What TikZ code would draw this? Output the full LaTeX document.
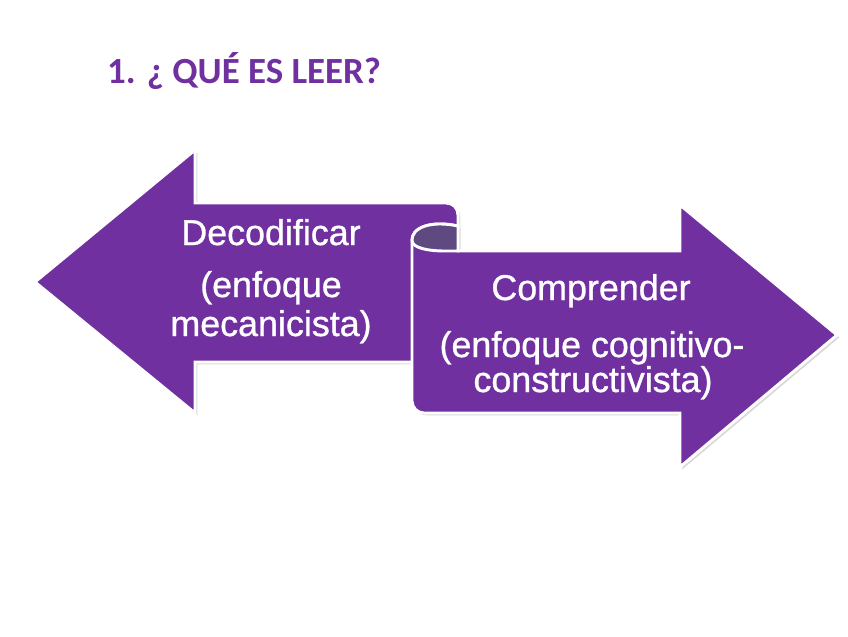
\documentclass[tikz,border=0pt]{standalone}
\usepackage{fontspec}
\setmainfont{Liberation Sans}
\newfontfamily\cuerpofont[FakeBold=0.9]{Liberation Sans}
\newfontfamily\titulofont{Carlito}
\usetikzlibrary{shadows}
\definecolor{morado}{RGB}{112,48,160}
\definecolor{moradoosc}{RGB}{94,74,128}
\begin{document}
\begin{tikzpicture}[x=0.03cm, y=-0.03cm,
    hoja/.style={fill=morado, draw=white, line width=2.5pt,
        drop shadow={shadow xshift=2pt, shadow yshift=-2pt, opacity=0.3}},
    texto/.style={text=white, inner sep=0pt, anchor=base,
        font=\cuerpofont\fontsize{30.6}{36}\selectfont}]
    \useasboundingbox (0,0) rectangle (848,636);

    % 标题
    \node[anchor=base west, inner sep=0pt, text=morado,
        font=\titulofont\bfseries\fontsize{31.5}{36}\selectfont] (titulo) at (107,83) {1. ¿ QUÉ ES LEER?};

    % 左箭头
    \draw[hoja] (35,282) -- (195,150) -- (195,203) -- (446,203)
        .. controls (453,203) and (458,208) .. (458,215) -- (458,362)
        -- (195,362) -- (195,413) -- cycle;

    % 右箭头
    \draw[hoja] (412,320) -- (412,241) .. controls (411,228) and (430,220) .. (458,226)
        -- (458,251) -- (680,251) -- (680,205) -- (837,335) -- (680,467) -- (680,413)
        -- (424,413) .. controls (417.4,413) and (412,407.6) .. (412,401) -- cycle;

    % 卷曲部分
    \draw[fill=moradoosc, draw=white, line width=2.5pt] (412,241)
        .. controls (411,228) and (430,220) .. (458,226) -- (458,251) -- (445,251)
        .. controls (428,251) and (413,248) .. (412,241);

    % 文字
    \node[texto] (dec) at (271,245) {Decodificar};
    \node[texto] (decA) at (271,297) {(enfoque};
    \node[texto] (decB) at (271,336) {mecanicista)};
    \node[texto] (com) at (591,300) {Comprender};
    \node[texto] (comA) at (592,357) {(enfoque cognitivo-};
    \node[texto] (comB) at (593,392) {constructivista)};
\end{tikzpicture}
\end{document}
